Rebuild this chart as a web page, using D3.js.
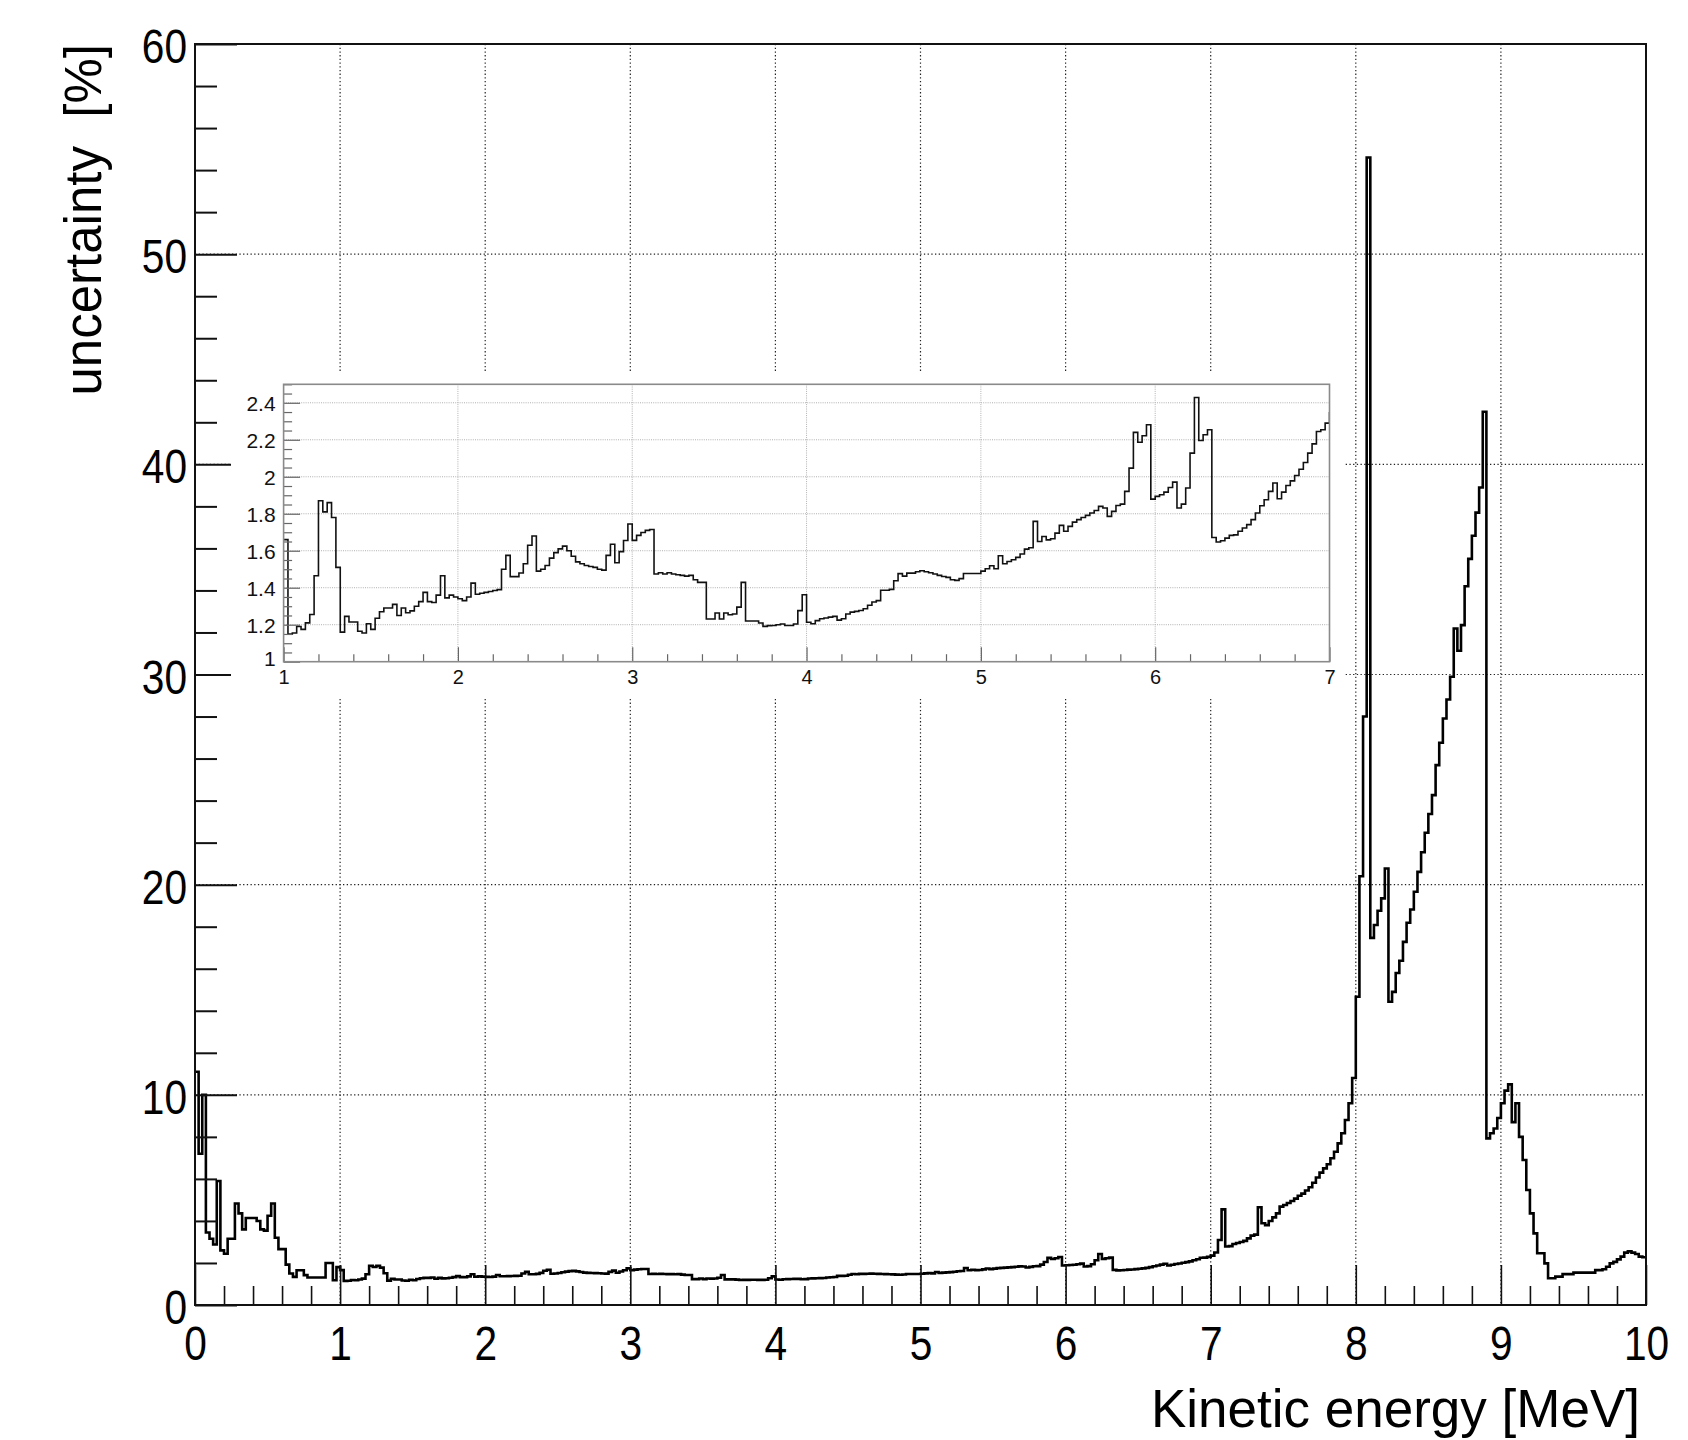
<!DOCTYPE html>
<meta charset="utf-8">
<head>
  <script src="https://d3js.org/d3.v7.min.js"></script>
  <style>
    body { margin: 0; background: #fff; }
    svg { font-family: 'Liberation Sans', Arial, Helvetica, sans-serif; }
  </style>
</head>
<body>
<div id="chart"></div>
<script>
  // histogram: 400 bins of 0.025 MeV from 0 to 10 MeV, uncertainty in %
  const binWidth = 0.025;
  const unc_0_1 = [11.1, 7.2, 10.0, 3.45, 3.15, 2.88, 5.9, 2.6, 2.44, 3.15,
    3.15, 4.83, 4.36, 3.6, 4.14, 4.14, 4.14, 4.0, 3.6, 3.54,
    4.25, 4.83, 3.2, 2.66, 2.66, 1.92, 1.5, 1.34, 1.65, 1.65,
    1.42, 1.31, 1.31, 1.31, 1.31, 1.31, 2.0, 2.0, 1.18, 1.8];
  const unc_1_3 = [1.66, 1.15, 1.155, 1.19, 1.175, 1.21, 1.255, 1.465, 1.87, 1.81,
    1.86, 1.78, 1.51, 1.16, 1.245, 1.215, 1.215, 1.165, 1.155, 1.205,
    1.175, 1.235, 1.27, 1.29, 1.29, 1.31, 1.25, 1.29, 1.265, 1.275,
    1.3, 1.325, 1.375, 1.325, 1.32, 1.36, 1.465, 1.345, 1.36, 1.35,
    1.34, 1.33, 1.35, 1.425, 1.365, 1.37, 1.375, 1.38, 1.385, 1.39,
    1.5, 1.575, 1.46, 1.46, 1.48, 1.53, 1.63, 1.68, 1.49, 1.5,
    1.52, 1.56, 1.59, 1.61, 1.625, 1.6, 1.57, 1.54, 1.53, 1.52,
    1.515, 1.51, 1.5, 1.495, 1.575, 1.635, 1.535, 1.595, 1.655, 1.745];
  const unc_3_5 = [1.656, 1.683, 1.699, 1.71, 1.715, 1.474, 1.481, 1.474, 1.481, 1.474,
    1.47, 1.467, 1.463, 1.467, 1.443, 1.429, 1.429, 1.231, 1.231, 1.263,
    1.231, 1.263, 1.254, 1.258, 1.295, 1.429, 1.22, 1.22, 1.22, 1.209,
    1.191, 1.195, 1.196, 1.2, 1.204, 1.196, 1.196, 1.204, 1.276, 1.362,
    1.213, 1.205, 1.222, 1.232, 1.236, 1.241, 1.245, 1.225, 1.232, 1.258,
    1.268, 1.272, 1.277, 1.286, 1.305, 1.323, 1.33, 1.386, 1.386, 1.391,
    1.438, 1.476, 1.463, 1.479, 1.479, 1.486, 1.492, 1.486, 1.481, 1.474,
    1.467, 1.461, 1.456, 1.443, 1.44, 1.449, 1.477, 1.477, 1.477, 1.477];
  const unc_5_7 = [1.49, 1.503, 1.519, 1.503, 1.573, 1.53, 1.542, 1.551, 1.564, 1.582,
    1.609, 1.616, 1.759, 1.65, 1.677, 1.659, 1.665, 1.695, 1.737, 1.705,
    1.732, 1.755, 1.768, 1.78, 1.791, 1.804, 1.818, 1.84, 1.831, 1.786,
    1.813, 1.845, 1.852, 1.921, 2.047, 2.24, 2.187, 2.222, 2.281, 1.879,
    1.894, 1.903, 1.917, 1.942, 1.971, 1.831, 1.852, 1.939, 2.128, 2.429,
    2.196, 2.227, 2.254, 1.672, 1.647, 1.654, 1.668, 1.683, 1.686, 1.705,
    1.723, 1.741, 1.768, 1.804, 1.843, 1.876, 1.921, 1.966, 1.881, 1.917,
    1.953, 1.978, 2.007, 2.041, 2.077, 2.128, 2.178, 2.245, 2.254, 2.29];
  const unc_7_10 = [2.35, 2.5, 3.09, 4.55, 2.78, 2.8, 2.9, 2.95, 3.0, 3.05,
    3.17, 3.3, 3.35, 4.65, 3.89, 3.8, 4.0, 4.17, 4.36, 4.68,
    4.76, 4.85, 4.95, 5.06, 5.2, 5.3, 5.45, 5.6, 5.82, 6.07,
    6.3, 6.5, 6.7, 6.98, 7.29, 7.69, 8.17, 8.8, 9.6, 10.8,
    14.67, 20.4, 28.0, 54.6, 17.47, 18.08, 18.76, 19.35, 20.77, 14.43,
    14.9, 15.8, 16.38, 17.28, 18.19, 18.82, 19.66, 20.61, 21.54, 22.47,
    23.36, 24.26, 25.69, 26.75, 27.91, 28.81, 29.89, 32.19, 31.13, 32.35,
    34.2, 35.5, 36.6, 37.7, 38.9, 42.5, 7.93, 8.17, 8.4, 8.9,
    9.6, 10.2, 10.5, 8.7, 9.6, 8.0, 6.9, 5.47, 4.36, 3.41,
    2.46, 2.46, 1.98, 1.27, 1.27, 1.35, 1.35, 1.47, 1.47, 1.47,
    1.54, 1.54, 1.54, 1.54, 1.54, 1.54, 1.66, 1.66, 1.7, 1.82,
    1.98, 2.05, 2.17, 2.3, 2.49, 2.55, 2.49, 2.43, 2.3, 2.27];

  const xTicks = [0, 1, 2, 3, 4, 5, 6, 7, 8, 9, 10];
  const yTicks = [0, 10, 20, 30, 40, 50, 60];
  const insetXTicks = [1, 2, 3, 4, 5, 6, 7];
  const insetYTicks = [1, 1.2, 1.4, 1.6, 1.8, 2, 2.2, 2.4];

  const unc = [].concat(unc_0_1, unc_1_3, unc_3_5, unc_5_7, unc_7_10);
  const steps = unc.map((v, i) => [i * binWidth, v]);
  steps.push([unc.length * binWidth, unc[unc.length - 1]]);

  const W = 1688, H = 1440;
  const svg = d3.select("#chart").append("svg")
    .attr("width", W).attr("height", H)
    .attr("viewBox", `0 0 ${W} ${H}`);
  svg.append("rect").attr("width", W).attr("height", H).attr("fill", "#fff");

  // ---------- main pad ----------
  const x = d3.scaleLinear().domain([0, 10]).range([195, 1646]);
  const y = d3.scaleLinear().domain([0, 60]).range([1305, 44]);
  const labelScale = 0.83;

  const grid = svg.append("g")
    .attr("stroke", "#222").attr("stroke-width", 1.2).attr("stroke-dasharray", "1.3 2.4");
  grid.selectAll(".vx").data(xTicks.slice(1, -1)).join("line")
    .attr("x1", d => x(d)).attr("x2", d => x(d))
    .attr("y1", y.range()[1]).attr("y2", y.range()[0]);
  grid.selectAll(".hy").data(yTicks.slice(1, -1)).join("line")
    .attr("y1", d => y(d)).attr("y2", d => y(d))
    .attr("x1", x.range()[0]).attr("x2", x.range()[1]);

  svg.append("path")
    .datum(steps)
    .attr("fill", "none")
    .attr("stroke", "#000")
    .attr("stroke-width", 2.6)
    .attr("d", d3.line().curve(d3.curveStepAfter).x(d => x(d[0])).y(d => y(d[1])));

  // minor ticks
  const yMinor = d3.range(0, 60.001, 2).filter(d => d % 10 !== 0);
  const xMinor = d3.range(0, 10.001, 0.2).filter(d => Math.abs(d - Math.round(d)) > 1e-6);
  svg.append("g").attr("transform", `translate(${x(0)},0)`)
    .call(d3.axisLeft(y).tickValues(yMinor).tickSize(-22).tickFormat(""))
    .call(g => g.select(".domain").remove())
    .selectAll("line").attr("stroke", "#111").attr("stroke-width", 2);
  svg.append("g").attr("transform", `translate(0,${y(0)})`)
    .call(d3.axisBottom(x).tickValues(xMinor).tickSize(-19).tickFormat(""))
    .call(g => g.select(".domain").remove())
    .selectAll("line").attr("stroke", "#111").attr("stroke-width", 1.6);

  // major ticks + labels
  const yAx = svg.append("g").attr("transform", `translate(${x(0)},0)`)
    .call(d3.axisLeft(y).tickValues(yTicks).tickSizeInner(-42).tickSizeOuter(0).tickPadding(8));
  yAx.select(".domain").remove();
  yAx.selectAll("line").attr("stroke", "#111").attr("stroke-width", 2);
  yAx.selectAll("text")
    .attr("x", -8 / labelScale).attr("dy", "0.38em")
    .attr("transform", `scale(${labelScale},1)`)
    .attr("font-size", 49).attr("fill", "#000")
    .style("font-family", "'Liberation Sans', Arial, sans-serif");

  const xAx = svg.append("g").attr("transform", `translate(0,${y(0)})`)
    .call(d3.axisBottom(x).tickValues(xTicks).tickSizeInner(-40).tickSizeOuter(0).tickPadding(20)
      .tickFormat(d3.format("d")));
  xAx.select(".domain").remove();
  xAx.selectAll("line").attr("stroke", "#111").attr("stroke-width", 1.6);
  xAx.selectAll("text")
    .attr("transform", `scale(${labelScale},1)`)
    .attr("font-size", 49).attr("fill", "#000")
    .style("font-family", "'Liberation Sans', Arial, sans-serif");

  // frame
  svg.append("rect")
    .attr("x", x(0)).attr("y", y(60))
    .attr("width", x(10) - x(0)).attr("height", y(0) - y(60))
    .attr("fill", "none").attr("stroke", "#111").attr("stroke-width", 2);

  // axis titles
  svg.append("text")
    .attr("x", 1640).attr("y", 1427)
    .attr("text-anchor", "end")
    .attr("font-size", 53)
    .text("Kinetic energy [MeV]");
  svg.append("text")
    .attr("transform", "translate(101,44) rotate(-90)")
    .attr("text-anchor", "end")
    .attr("font-size", 51)
    .attr("xml:space", "preserve")
    .style("white-space", "pre")
    .text("uncertainty  [%]");

  // ---------- inset pad (zoom on 1-7 MeV) ----------
  svg.append("rect")
    .attr("x", 231).attr("y", 371).attr("width", 1345 - 231).attr("height", 698 - 371)
    .attr("fill", "#fff");

  const ix = d3.scaleLinear().domain([1, 7]).range([283.6, 1329.5]);
  const iy = d3.scaleLinear().domain([1, 2.5]).range([661.7, 384.3]);

  const igrid = svg.append("g")
    .attr("stroke", "#b0b0b0").attr("stroke-width", 1).attr("stroke-dasharray", "1 1.2");
  igrid.selectAll(".vx").data(insetXTicks.slice(1, -1)).join("line")
    .attr("x1", d => ix(d)).attr("x2", d => ix(d))
    .attr("y1", iy.range()[1]).attr("y2", iy.range()[0]);
  igrid.selectAll(".hy").data(insetYTicks.slice(1)).join("line")
    .attr("y1", d => iy(d)).attr("y2", d => iy(d))
    .attr("x1", ix.range()[0]).attr("x2", ix.range()[1]);

  svg.append("clipPath").attr("id", "insetClip")
    .append("rect")
    .attr("x", ix(1)).attr("y", iy(2.5))
    .attr("width", ix(7) - ix(1)).attr("height", iy(1) - iy(2.5));

  const insetSteps = steps.filter(d => d[0] >= 1 - 1e-9 && d[0] <= 7 + 1e-9);
  svg.append("path")
    .datum(insetSteps)
    .attr("clip-path", "url(#insetClip)")
    .attr("fill", "none")
    .attr("stroke", "#111")
    .attr("stroke-width", 1.6)
    .attr("d", d3.line().curve(d3.curveStepAfter).x(d => ix(d[0])).y(d => iy(d[1])));

  const iyMinor = d3.range(1, 2.5001, 0.05).filter(d => Math.abs(d * 5 - Math.round(d * 5)) > 1e-6);
  const ixMinor = d3.range(1, 7.001, 0.2).filter(d => Math.abs(d - Math.round(d)) > 1e-6);
  svg.append("g").attr("transform", `translate(${ix(1)},0)`)
    .call(d3.axisLeft(iy).tickValues(iyMinor).tickSize(-8.5).tickFormat(""))
    .call(g => g.select(".domain").remove())
    .selectAll("line").attr("stroke", "#666").attr("stroke-width", 1.2);
  svg.append("g").attr("transform", `translate(0,${iy(1)})`)
    .call(d3.axisBottom(ix).tickValues(ixMinor).tickSize(-7.5).tickFormat(""))
    .call(g => g.select(".domain").remove())
    .selectAll("line").attr("stroke", "#666").attr("stroke-width", 1.2);

  const iyAx = svg.append("g").attr("transform", `translate(${ix(1)},0)`)
    .call(d3.axisLeft(iy).tickValues(insetYTicks).tickSizeInner(-16.5).tickSizeOuter(0).tickPadding(8)
      .tickFormat(d => d3.format(".1f")(d).replace(/\.0$/, "")));
  iyAx.select(".domain").remove();
  iyAx.selectAll("line").attr("stroke", "#666").attr("stroke-width", 1.2);
  iyAx.selectAll("text").attr("font-size", 21).attr("fill", "#111")
    .attr("dy", d => d === 1 ? "0.2em" : "0.36em")
    .style("font-family", "'Liberation Sans', Arial, sans-serif");

  const ixAx = svg.append("g").attr("transform", `translate(0,${iy(1)})`)
    .call(d3.axisBottom(ix).tickValues(insetXTicks).tickSizeInner(-14.5).tickSizeOuter(0).tickPadding(8)
      .tickFormat(d3.format("d")));
  ixAx.select(".domain").remove();
  ixAx.selectAll("line").attr("stroke", "#666").attr("stroke-width", 1.2);
  ixAx.selectAll("text").attr("font-size", 20).attr("fill", "#111")
    .style("font-family", "'Liberation Sans', Arial, sans-serif");

  svg.append("rect")
    .attr("x", ix(1)).attr("y", iy(2.5))
    .attr("width", ix(7) - ix(1)).attr("height", iy(1) - iy(2.5))
    .attr("fill", "none").attr("stroke", "#8a8a8a").attr("stroke-width", 1.6);
</script>
</body>
